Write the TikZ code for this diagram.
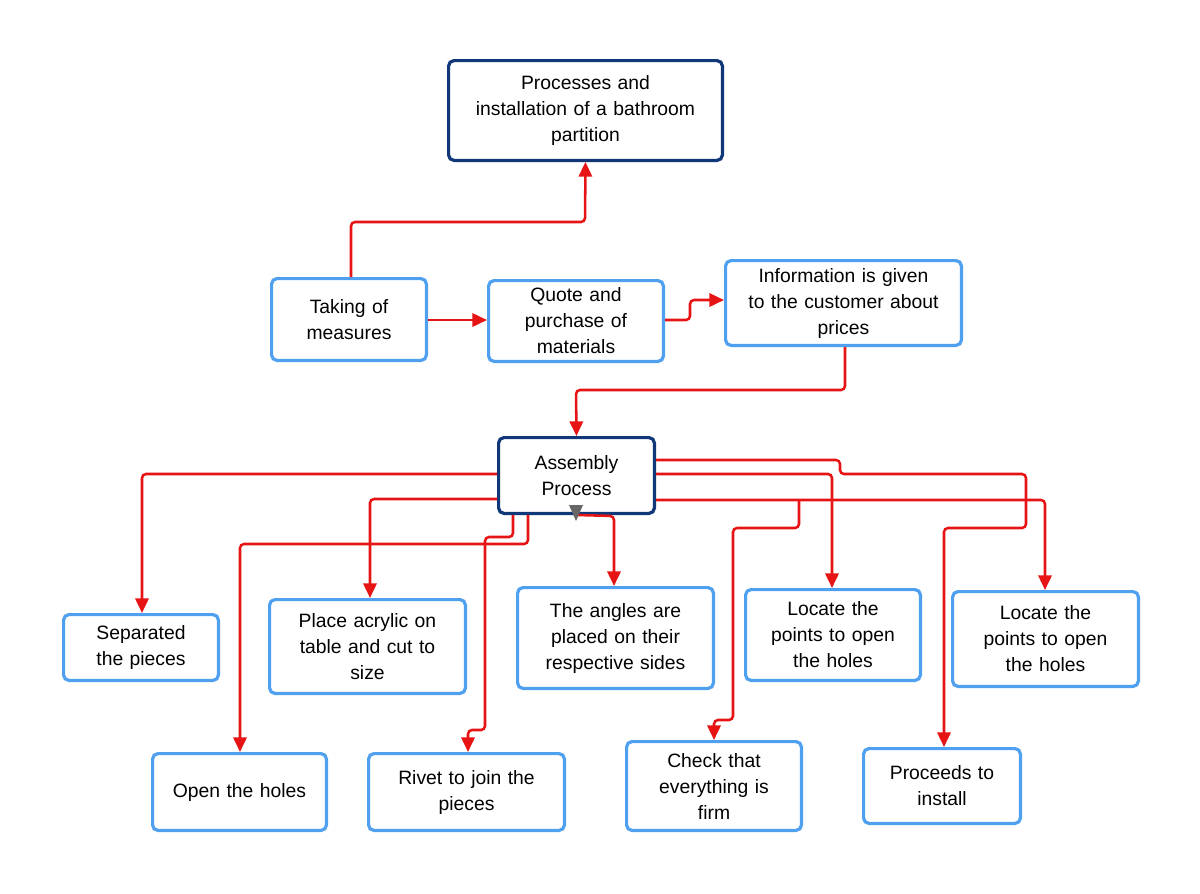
\documentclass[tikz,border=0pt]{standalone}
\usepackage{fontspec}
\setmainfont{Liberation Sans}
\usetikzlibrary{arrows.meta}
\definecolor{dk}{RGB}{16,56,120}
\definecolor{lt}{RGB}{80,160,240}
\definecolor{rd}{RGB}{230,20,20}
\begin{document}
\begin{tikzpicture}[x=0.75pt,y=-0.75pt,
 box/.style={draw=lt,line width=2.4pt,rounded corners=4pt,fill=white,align=center,font=\fontsize{14.5}{19.5}\selectfont,inner sep=0pt},
 dbox/.style={box,draw=dk},
 ar/.style={draw=rd,line width=1.9pt,rounded corners=3pt,-{Triangle[length=11pt,width=10pt]}}]
\useasboundingbox (0,0) rectangle (1200,893);
\newcommand\bx[7]{\node[#1,minimum width=#4*0.75pt-2.4pt,minimum height=#5*0.75pt-2.4pt,text width=#6] (#2) at (#3) {#7};}
\bx{dbox}{top}{585.5,110.5}{277}{103}{190pt}{Processes and\\installation of a bathroom\\partition}
\bx{box}{take}{349,319.5}{158}{85}{100pt}{Taking of\\measures}
\bx{box}{quote}{576,321}{178}{84}{120pt}{Quote and\\purchase of\\materials}
\bx{box}{info}{843.5,303}{239}{88}{170pt}{Information is given\\to the customer about\\prices}
\bx{dbox}{asm}{576.5,475.5}{159}{79}{100pt}{Assembly\\Process}
\bx{box}{sep}{141,647.5}{158}{69}{100pt}{Separated\\the pieces}
\bx{box}{acr}{367.5,646.5}{199}{97}{140pt}{Place acrylic on\\table and cut to\\size}
\bx{box}{ang}{615.5,638}{199}{104}{140pt}{The angles are\\placed on their\\respective sides}
\bx{box}{loc1}{833,635}{178}{94}{120pt}{Locate the\\points to open\\the holes}
\bx{box}{loc2}{1045.5,639}{189}{98}{130pt}{Locate the\\points to open\\the holes}
\bx{box}{open}{239.5,792}{177}{80}{125pt}{Open the holes}
\bx{box}{riv}{466.5,792}{199}{80}{140pt}{Rivet to join the\\pieces}
\bx{box}{chk}{714,786}{178}{92}{120pt}{Check that\\everything is\\firm}
\bx{box}{proc}{942,786}{160}{78}{110pt}{Proceeds to\\install}
\draw[ar] (take.north-|351,0) -- (351,222) -- (585,222) -- (top.south);
\draw[ar] (take.east|-0,320) -- (quote.west|-0,320);
\draw[ar] (quote.east|-0,320) -- (690,320) -- (690,300) -- (info.west|-0,300);
\draw[ar] (info.south-|845,0) -- (845,390) -- (576,390) -- (asm.north);
\draw[ar] (asm.west|-0,474) -- (142,474) -- (sep.north-|142,0);
\draw[ar] (asm.west|-0,499) -- (370,499) -- (acr.north-|370,0);
\draw[ar] (asm.south-|513,0) -- (513,537) -- (485,537) -- (485,730) -- (468,730) -- (riv.north-|468,0);
\draw[ar] (asm.south-|528,0) -- (528,544) -- (240,544) -- (open.north-|240,0);
\draw[ar] (asm.south-|576,0) -- (614,516) -- (ang.north-|614,0);
\draw[ar] (asm.east|-0,460) -- (840,460) -- (840,474) -- (1026,474) -- (1026,528) -- (944,528) -- (proc.north-|944,0);
\draw[ar] (asm.east|-0,474) -- (832,474) -- (loc1.north-|832,0);
\draw[ar] (asm.east|-0,500) -- (1045,500) -- (loc2.north-|1045,0);
\draw[ar] (799,500) -- (799,528) -- (733,528) -- (733,720) -- (714,720) -- (chk.north);
\fill[gray!80!black] (569,505) -- (583,505) -- (576,521) -- cycle;
\end{tikzpicture}
\end{document}
